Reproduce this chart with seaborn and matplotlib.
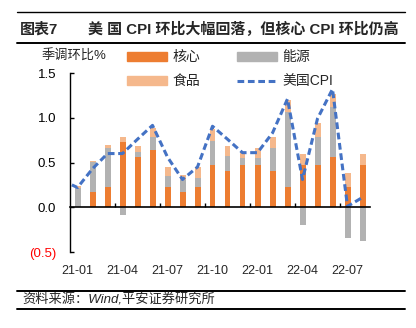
import numpy as np
import pandas as pd
import matplotlib
matplotlib.use("Agg")
import matplotlib.pyplot as plt
from matplotlib.patches import Patch
from matplotlib.lines import Line2D
import seaborn as sns

# ---------------- data ----------------
months = ['21-01', '21-02', '21-03', '21-04', '21-05', '21-06', '21-07', '21-08',
          '21-09', '21-10', '21-11', '21-12', '22-01', '22-02', '22-03', '22-04',
          '22-05', '22-06', '22-07', '22-08']
core = [0.00, 0.165, 0.23, 0.73, 0.56, 0.64, 0.23, 0.165, 0.23, 0.475,
        0.40, 0.475, 0.475, 0.40, 0.23, 0.475, 0.475, 0.56, 0.23, 0.475]
energy = [0.22, 0.34, 0.43, -0.09, 0.056, 0.15, 0.12, 0.14, 0.10, 0.27,
          0.17, 0.07, 0.07, 0.26, 0.83, -0.195, 0.31, 0.56, -0.345, -0.375]
food = [0.02, 0.015, 0.03, 0.05, 0.07, 0.09, 0.10, 0.05, 0.12, 0.13,
        0.11, 0.075, 0.12, 0.13, 0.14, 0.125, 0.16, 0.14, 0.15, 0.115]
# US CPI m/m, first value is 20-12 (clipped at the left edge)
cpi_months = ['20-12'] + months
cpi = [0.30, 0.22, 0.43, 0.60, 0.60, 0.76, 0.915, 0.56, 0.31, 0.45, 0.905,
       0.76, 0.61, 0.61, 0.83, 1.21, 0.31, 0.99, 1.32, 0.01, 0.11]
label_months = ['21-01', '21-04', '21-07', '21-10', '22-01', '22-04', '22-07']
yticks = [-0.5, 0.0, 0.5, 1.0, 1.5]
ytick_labels = ['(0.5)', '0.0', '0.5', '1.0', '1.5']

C_CORE = '#ED7D31'
C_ENERGY = '#B2B2B2'
C_FOOD = '#F5B88C'
C_CPI = '#4472C4'

sns.set_theme(style='white')
plt.rcParams['font.family'] = ['Liberation Sans', 'Noto Sans CJK SC']
plt.rcParams['axes.unicode_minus'] = False

df = pd.DataFrame({'month': months, 'core': core, 'energy': energy, 'food': food})
df['e_pos'] = df['energy'].clip(lower=0)
df['e_neg'] = df['energy'].clip(upper=0)
df['lvl_energy'] = df['core'] + df['e_pos']
df['lvl_food'] = df['lvl_energy'] + df['food']

W, H = 416, 328
fig = plt.figure(figsize=(W / 100, H / 100), dpi=100)
ax = fig.add_axes([70 / W, 1 - 252 / H, 300 / W, (252 - 73) / H])

bw = 0.4
sns.barplot(data=df, x='month', y='lvl_food', order=months, color=C_FOOD,
            width=bw, linewidth=0, saturation=1, ax=ax)
sns.barplot(data=df, x='month', y='lvl_energy', order=months, color=C_ENERGY,
            width=bw, linewidth=0, saturation=1, ax=ax)
sns.barplot(data=df, x='month', y='core', order=months, color=C_CORE,
            width=bw, linewidth=0, saturation=1, ax=ax)
sns.barplot(data=df, x='month', y='e_neg', order=months, color=C_ENERGY,
            width=bw, linewidth=0, saturation=1, ax=ax)

pos_map = {m: i for i, m in enumerate(months)}
pos_map['20-12'] = -1
line_df = pd.DataFrame({'x': [pos_map[m] for m in cpi_months], 'cpi': cpi})
sns.lineplot(data=line_df, x='x', y='cpi', color=C_CPI, lw=2.2,
             linestyle=(0, (2.2, 1.2)), ax=ax)

ax.set_xlim(-0.5, 19.5)
ax.set_ylim(-0.5, 1.5)
ax.set_xlabel('')
ax.set_ylabel('')

for s in ['top', 'right']:
    ax.spines[s].set_visible(False)
ax.spines['left'].set_color('black')
ax.spines['left'].set_linewidth(1.0)
ax.spines['bottom'].set_position(('data', 0))
ax.spines['bottom'].set_color('black')
ax.spines['bottom'].set_linewidth(1.2)

ax.set_yticks(yticks)
ax.set_yticklabels(ytick_labels, fontsize=9.5)
ax.tick_params(axis='y', direction='in', length=3, width=1, pad=10, colors='black', left=True)
for lab in ax.get_yticklabels():
    if lab.get_text().startswith('('):
        lab.set_color('red')

ax.set_xticks([2.5, 5.5, 8.5, 11.5, 14.5, 17.5])
ax.tick_params(axis='x', direction='in', length=3, width=1, labelbottom=False, bottom=True, color='black')

sec = ax.secondary_xaxis('bottom')
sec.set_xticks([pos_map[m] for m in label_months])
sec.set_xticklabels(label_months, fontsize=9)
sec.tick_params(length=0, pad=9)
sec.spines['bottom'].set_visible(False)

# y unit label
fig.text(42 / W, 1 - 56 / H, '季调环比%', fontsize=9.5, ha='left', va='center')

# legend
handles = [Patch(color=C_CORE), Patch(color=C_FOOD), Patch(color=C_ENERGY),
           Line2D([0], [0], color=C_CPI, lw=2.2, linestyle=(0, (2.2, 1.2)))]
labels = ['核心', '食品', '能源', '美国CPI']
fig.legend(handles, labels, ncol=2, loc='upper left', bbox_to_anchor=(127 / W, 1 - 50 / H),
           frameon=False, fontsize=10, handlelength=2.9, handleheight=0.6,
           handletextpad=0.4, columnspacing=2.6, labelspacing=0.75,
           borderpad=0, borderaxespad=0)

# title
fig.text(20 / W, 1 - 29 / H, '图表7', fontsize=10.8, fontweight='bold', ha='left', va='center')
fig.text(88 / W, 1 - 29 / H, '美 国 CPI 环比大幅回落，但核心 CPI 环比仍高', fontsize=10.8,
         fontweight='bold', ha='left', va='center')
fig.add_artist(Line2D([17 / W, 405 / W], [1 - 12 / H, 1 - 12 / H], color='black', lw=1.0))
fig.add_artist(Line2D([17 / W, 405 / W], [1 - 43 / H, 1 - 43 / H], color='black', lw=1.4))

# footer
fig.text(22 / W, 1 - 300 / H, '资料来源：Wind,平安证券研究所', fontsize=9.5, style='italic',
         ha='left', va='center')
fig.add_artist(Line2D([17 / W, 405 / W], [1 - 291 / H, 1 - 291 / H], color='black', lw=1.4))
fig.add_artist(Line2D([17 / W, 405 / W], [1 - 308.5 / H, 1 - 308.5 / H], color='black', lw=1.4))

fig.savefig('out.png', dpi=100)
